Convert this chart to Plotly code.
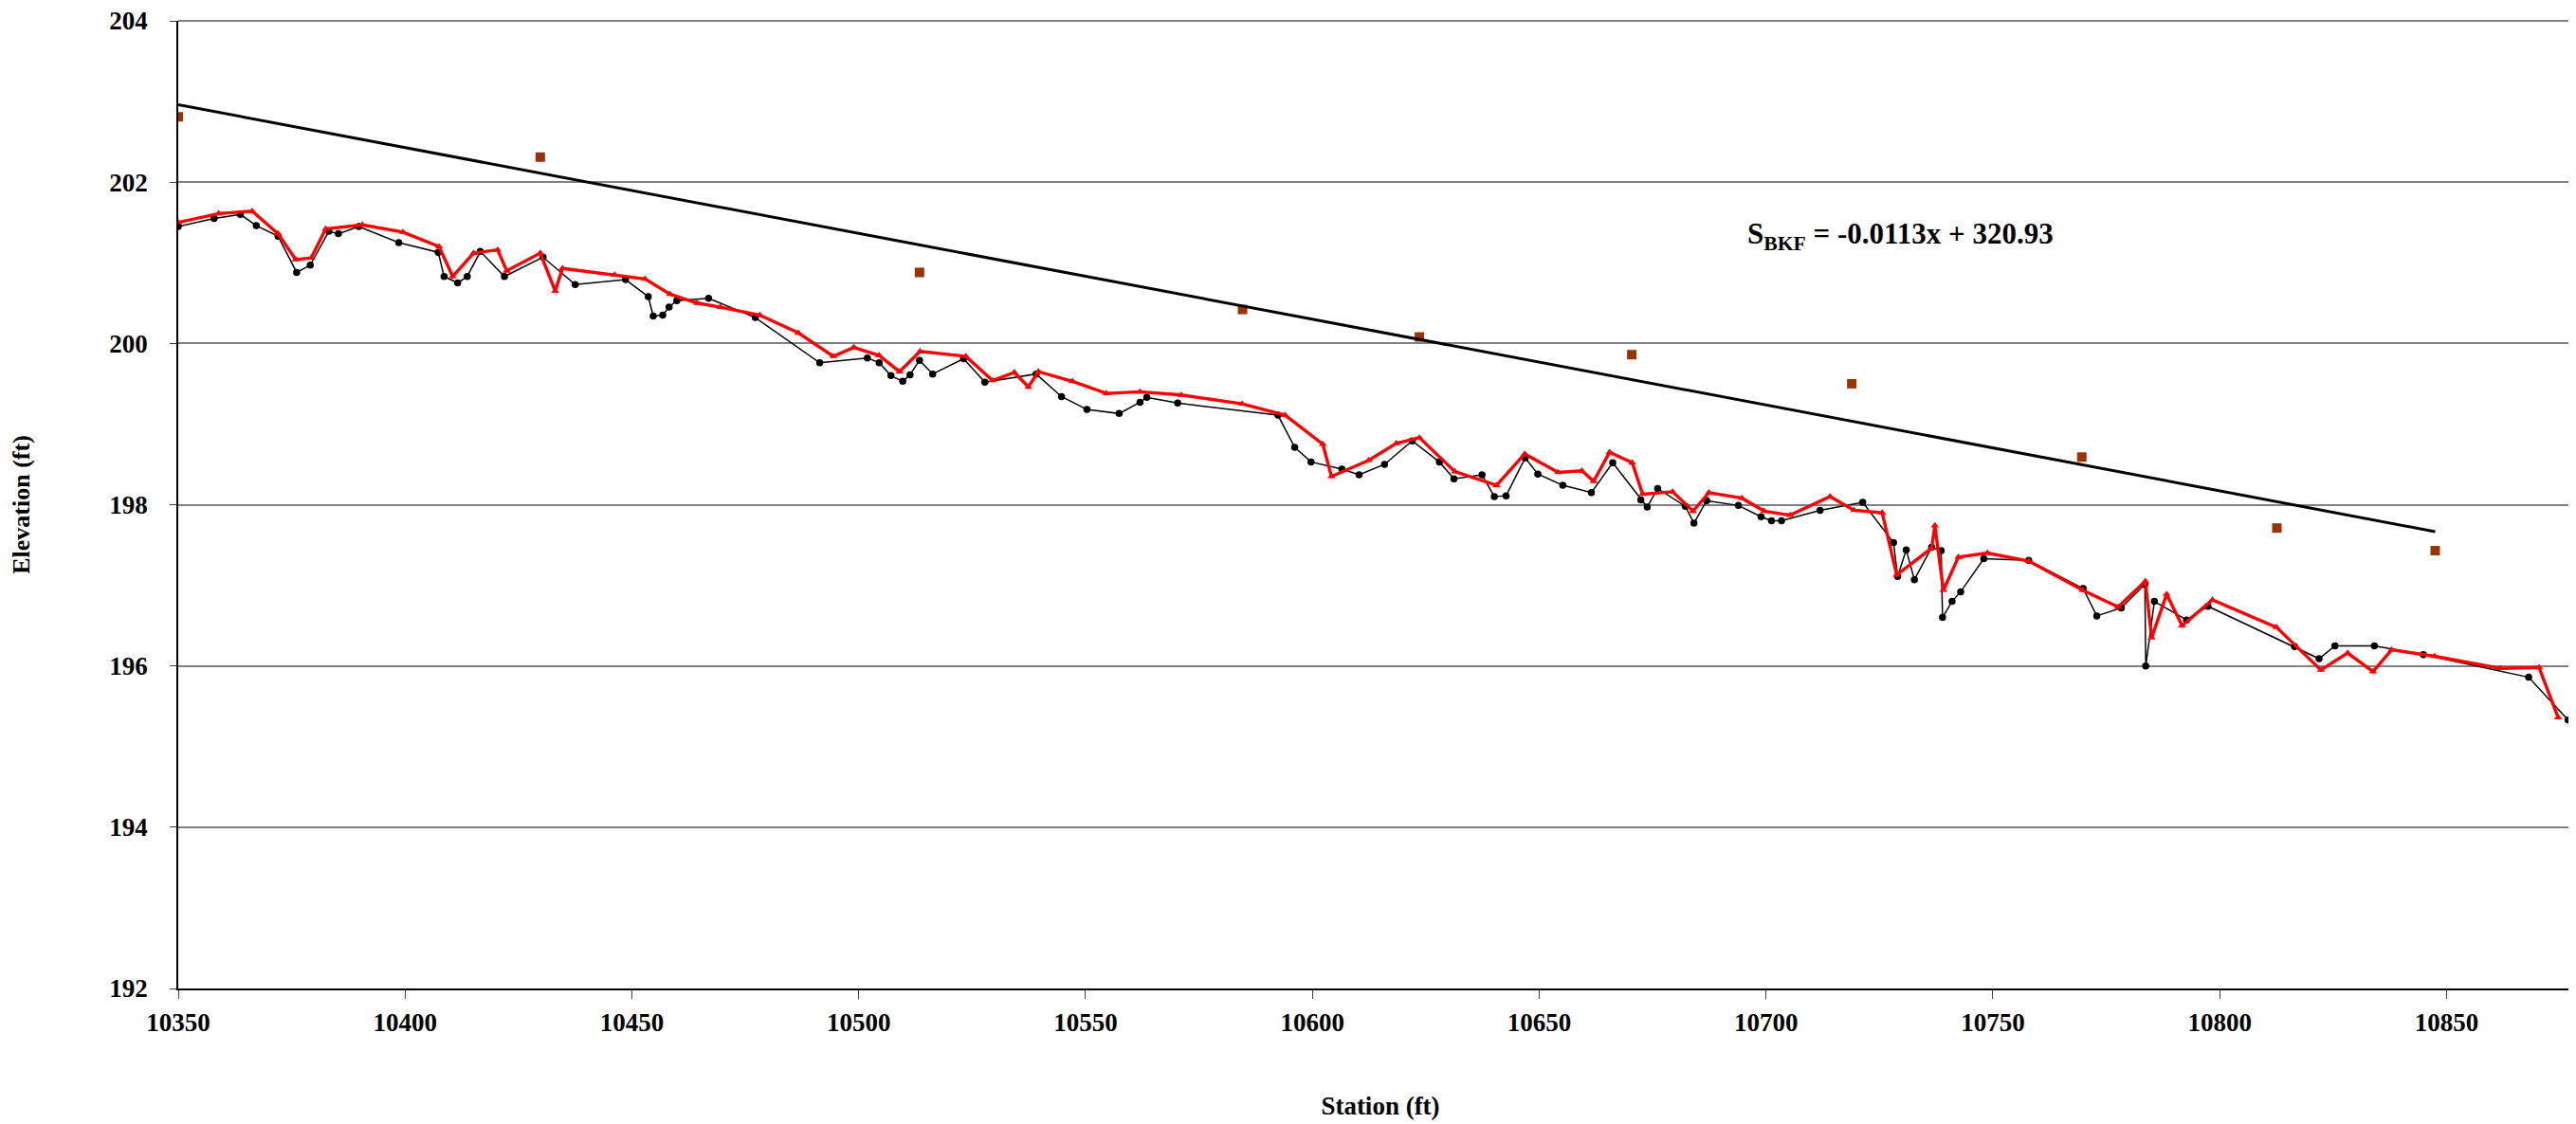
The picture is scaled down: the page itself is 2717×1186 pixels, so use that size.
import numpy as np
import plotly.graph_objects as go

# ---- Data ----
station_black = [10350.0, 10357.9, 10363.7, 10367.2, 10372.0, 10376.1, 10379.1, 10383.2, 10385.3, 10389.8,
                 10398.6, 10407.3, 10408.6, 10411.6, 10413.7, 10416.6, 10421.9, 10430.4, 10437.5, 10448.6,
                 10453.6, 10454.7, 10456.8, 10458.2, 10459.9, 10466.9, 10477.2, 10491.4, 10501.9, 10504.5,
                 10507.1, 10509.7, 10511.3, 10513.4, 10516.3, 10523.1, 10527.8, 10539.1, 10544.7, 10550.3,
                 10557.4, 10562.0, 10563.5, 10570.3, 10592.4, 10596.1, 10599.7, 10606.5, 10610.3, 10615.9,
                 10622.0, 10628.0, 10631.2, 10637.4, 10640.1, 10642.7, 10646.9, 10649.7, 10655.2, 10661.5,
                 10666.2, 10672.4, 10673.8, 10676.1, 10682.2, 10684.1, 10686.9, 10693.9, 10698.9, 10701.2,
                 10703.4, 10711.9, 10721.3, 10728.1, 10729.0, 10730.9, 10732.7, 10736.5, 10738.6, 10738.9,
                 10741.0, 10742.9, 10748.0, 10757.9, 10769.9, 10772.9, 10778.3, 10783.5, 10783.7, 10785.6,
                 10792.7, 10797.4, 10816.5, 10821.9, 10825.4, 10834.1, 10844.9, 10868.1, 10876.8]
elev_black = [201.45, 201.55, 201.60, 201.46, 201.33, 200.88, 200.97, 201.39, 201.36, 201.45,
              201.25, 201.13, 200.83, 200.75, 200.83, 201.14, 200.83, 201.07, 200.73, 200.79,
              200.58, 200.34, 200.35, 200.45, 200.53, 200.56, 200.32, 199.76, 199.82, 199.76,
              199.60, 199.53, 199.61, 199.79, 199.62, 199.81, 199.52, 199.62, 199.34, 199.18,
              199.13, 199.27, 199.33, 199.26, 199.11, 198.71, 198.53, 198.44, 198.37, 198.50,
              198.79, 198.53, 198.32, 198.37, 198.10, 198.11, 198.58, 198.38, 198.24, 198.15,
              198.52, 198.06, 197.97, 198.20, 197.98, 197.77, 198.05, 197.99, 197.85, 197.80,
              197.80, 197.93, 198.03, 197.53, 197.11, 197.44, 197.07, 197.47, 197.43, 196.60,
              196.80, 196.92, 197.33, 197.31, 196.96, 196.62, 196.72, 197.01, 196.00, 196.80,
              196.57, 196.74, 196.24, 196.09, 196.25, 196.25, 196.14, 195.86, 195.33]

station_red = [10350.0, 10358.9, 10366.3, 10372.0, 10375.9, 10379.3, 10382.5, 10390.6, 10399.5, 10407.5,
               10410.5, 10415.1, 10420.4, 10422.4, 10429.8, 10433.1, 10434.7, 10446.2, 10452.9, 10458.4,
               10464.4, 10469.5, 10478.2, 10486.7, 10494.4, 10498.9, 10504.5, 10509.0, 10513.5, 10523.6,
               10529.5, 10534.3, 10537.4, 10539.6, 10547.1, 10554.6, 10562.0, 10571.1, 10584.5, 10594.0,
               10602.3, 10604.2, 10612.4, 10618.5, 10623.6, 10631.4, 10640.6, 10646.8, 10654.2, 10659.4,
               10662.0, 10665.5, 10670.5, 10672.8, 10679.4, 10683.9, 10687.4, 10694.7, 10699.6, 10705.3,
               10714.1, 10719.4, 10725.6, 10728.8, 10736.5, 10737.2, 10739.1, 10742.4, 10748.8, 10757.9,
               10769.8, 10777.6, 10783.6, 10785.0, 10788.3, 10791.7, 10798.4, 10812.5, 10822.3, 10828.2,
               10833.8, 10837.9, 10847.4, 10861.8, 10870.4, 10874.6]
elev_red = [201.50, 201.61, 201.64, 201.36, 201.04, 201.06, 201.42, 201.47, 201.38, 201.20,
            200.83, 201.12, 201.16, 200.90, 201.12, 200.65, 200.93, 200.85, 200.80, 200.61,
            200.50, 200.45, 200.35, 200.13, 199.84, 199.95, 199.85, 199.65, 199.90, 199.84,
            199.54, 199.64, 199.46, 199.65, 199.53, 199.38, 199.40, 199.36, 199.25, 199.11,
            198.75, 198.35, 198.55, 198.76, 198.83, 198.41, 198.24, 198.63, 198.40, 198.42,
            198.29, 198.65, 198.52, 198.13, 198.16, 197.92, 198.15, 198.08, 197.92, 197.87,
            198.10, 197.93, 197.90, 197.13, 197.46, 197.74, 196.94, 197.35, 197.40, 197.30,
            196.94, 196.73, 197.05, 196.35, 196.89, 196.50, 196.82, 196.48, 195.95, 196.16,
            195.93, 196.20, 196.12, 195.97, 195.98, 195.36]

station_bkf = [10350.0, 10429.8, 10513.4, 10584.6, 10623.6, 10670.4, 10718.9, 10769.6, 10812.6, 10847.5]
elev_bkf = [202.81, 202.31, 200.88, 200.42, 200.08, 199.86, 199.50, 198.59, 197.71, 197.43]

x_ticks = [10350, 10400, 10450, 10500, 10550, 10600, 10650, 10700, 10750, 10800, 10850]
y_ticks = [192, 194, 196, 198, 200, 202, 204]

equation_text = "S<sub>BKF</sub> = -0.0113x + 320.93"

# Linear trendline fitted to bankfull points
slope, intercept = np.polyfit(station_bkf, elev_bkf, 1)
trend_x = np.array([min(station_bkf), max(station_bkf)])
trend_y = slope * trend_x + intercept

FONT = "Liberation Serif, Times New Roman, serif"

fig = go.Figure()
fig.add_trace(go.Scatter(
    x=station_black, y=elev_black, mode="lines+markers",
    line=dict(color="black", width=1.5),
    marker=dict(symbol="circle", size=7.5, color="black"),
    showlegend=False))
fig.add_trace(go.Scatter(
    x=station_red, y=elev_red, mode="lines+markers",
    line=dict(color="#FF0000", width=3.4),
    marker=dict(symbol="triangle-up", size=7.5, color="#FF0000"),
    showlegend=False))
fig.add_trace(go.Scatter(
    x=station_bkf, y=elev_bkf, mode="markers",
    marker=dict(symbol="square", size=10, color="#993300"),
    showlegend=False))
fig.add_trace(go.Scatter(
    x=trend_x, y=trend_y, mode="lines",
    line=dict(color="black", width=3),
    showlegend=False))

fig.add_annotation(
    text=equation_text, xref="paper", yref="paper",
    x=0.652, y=0.7775, xanchor="left", yanchor="middle", showarrow=False,
    font=dict(family=FONT, size=31, color="black", weight="bold"))

# thin grey frame on top and right of plot area
fig.add_shape(type="line", xref="paper", yref="paper", x0=1, x1=1, y0=0, y1=1,
              line=dict(color="#808080", width=1.5))
fig.add_shape(type="line", xref="paper", yref="paper", x0=0, x1=1, y0=1, y1=1,
              line=dict(color="#808080", width=2))

fig.update_layout(
    width=2717, height=1186,
    margin=dict(l=180, r=1, t=14, b=151),
    paper_bgcolor="white", plot_bgcolor="white",
    font=dict(family=FONT, color="black"),
    xaxis=dict(
        range=[10350, 10880], tickmode="array", tickvals=x_ticks,
        ticktext=[str(v) for v in x_ticks], automargin=False,
        showgrid=False, zeroline=False,
        showline=True, linecolor="black", linewidth=1.5,
        ticks="outside", ticklen=9, tickcolor="#404040", tickwidth=1,
        tickfont=dict(family=FONT, size=27, color="black", weight="bold"),
        ticklabelstandoff=2, ticklabeloverflow="allow",
        title=dict(text="Station (ft)", standoff=64,
                   font=dict(family=FONT, size=27, color="black", weight="bold")),
    ),
    yaxis=dict(
        range=[192, 204], tickmode="array", tickvals=y_ticks,
        ticktext=[str(v) for v in y_ticks], automargin=False,
        showgrid=True, gridcolor="#808080", gridwidth=1.5,
        zeroline=False,
        showline=True, linecolor="black", linewidth=1.5,
        ticks="outside", ticklen=7, tickcolor="#404040", tickwidth=1,
        tickfont=dict(family=FONT, size=27, color="black", weight="bold"),
        ticklabelstandoff=18, ticklabeloverflow="allow",
        title=dict(text="Elevation (ft)", standoff=81,
                   font=dict(family=FONT, size=26, color="black", weight="bold")),
    ),
)

fig.write_html("out.html")
